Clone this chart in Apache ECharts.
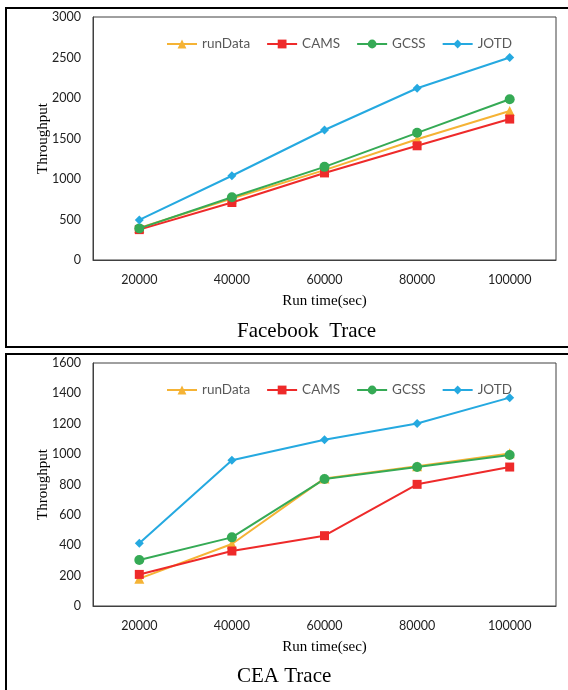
<!DOCTYPE html>
<html><head><meta charset="utf-8">
<script src="https://cdn.jsdelivr.net/npm/echarts@6/dist/echarts.min.js"></script>
<style>html,body{margin:0;padding:0;background:#fff}#c{width:568px;height:690px}</style>
</head><body><div id="c"></div>
<script>
var categories = ['20000','40000','60000','80000','100000'];
var seriesNames = ['runData','CAMS','GCSS','JOTD'];
// Facebook Trace
var fbRunData = [395, 760, 1110, 1490, 1840];
var fbCAMS    = [375, 710, 1075, 1410, 1740];
var fbGCSS    = [390, 775, 1150, 1570, 1985];
var fbJOTD    = [495, 1040, 1605, 2120, 2500];
// CEA Trace
var ceaRunData = [180, 408, 840, 920, 1005];
var ceaCAMS    = [208, 362, 463, 801, 915];
var ceaGCSS    = [303, 452, 836, 915, 994];
var ceaJOTD    = [413, 960, 1095, 1202, 1372];
var fbTicks = [0,500,1000,1500,2000,2500,3000];
var ceaTicks = [0,200,400,600,800,1000,1200,1400,1600];

var colors = {runData:'#F5B335', CAMS:'#EE2A2A', GCSS:'#35AA55', JOTD:'#25A9E0'};
var symbols = {runData:'triangle', CAMS:'rect', GCSS:'circle', JOTD:'diamond'};
var sizes = {runData:10, CAMS:9, GCSS:10, JOTD:9};
var sans = 'Lato';
var serif = 'Liberation Serif';

function mk(name, data, idx){
  return {name:name, type:'line', xAxisIndex:idx, yAxisIndex:idx, data:data,
    symbol:symbols[name], symbolSize:sizes[name], showAllSymbol:true,
    itemStyle:{color:colors[name]}, lineStyle:{color:colors[name], width:2}};
}
function xa(idx){
  return {type:'category', gridIndex:idx, data:categories, boundaryGap:true,
    axisLine:{show:true, lineStyle:{color:'#404040', width:1}}, axisTick:{show:false},
    axisLabel:{color:'#222', fontFamily:sans, fontSize:12.5, margin:13},
    name:'Run time(sec)', nameLocation:'middle', nameGap:34,
    nameTextStyle:{fontFamily:serif, fontSize:15, color:'#000'}};
}
function ya(idx, ticks){
  return {type:'value', gridIndex:idx, min:ticks[0], max:ticks[ticks.length-1], interval:ticks[1]-ticks[0],
    splitLine:{show:false}, axisLine:{show:true, lineStyle:{color:'#404040', width:1}}, axisTick:{show:false},
    axisLabel:{color:'#222', fontFamily:sans, fontSize:12.5, margin:12, formatter:function(v){return String(v);}},
    name:'Throughput', nameLocation:'middle', nameGap:42, nameRotate:90, nameMoveOverlap:false,
    nameTextStyle:{fontFamily:serif, fontSize:15, color:'#000'}};
}
function lg(top){
  return {data:seriesNames, left:161, top:top, itemWidth:30, itemHeight:11, itemGap:16,
    textStyle:{fontFamily:sans, fontSize:13.5, color:'#595959'}, selectedMode:false};
}
var chart = echarts.init(document.getElementById('c'), null, {renderer:'canvas'});
chart.setOption({
  animation:false,
  backgroundColor:'#fff',
  grid:[
    {left:93, top:17, width:463, height:243, show:true, borderColor:'#404040', borderWidth:1, backgroundColor:'transparent'},
    {left:93, top:363, width:463, height:243, show:true, borderColor:'#404040', borderWidth:1, backgroundColor:'transparent'}
  ],
  legend:[lg(32), lg(378)],
  xAxis:[xa(0), xa(1)],
  yAxis:[ya(0, fbTicks), ya(1, ceaTicks)],
  series:[
    mk('runData', fbRunData, 0), mk('CAMS', fbCAMS, 0), mk('GCSS', fbGCSS, 0), mk('JOTD', fbJOTD, 0),
    mk('runData', ceaRunData, 1), mk('CAMS', ceaCAMS, 1), mk('GCSS', ceaGCSS, 1), mk('JOTD', ceaJOTD, 1)
  ],
  graphic:[
    {type:'rect', shape:{x:6, y:8, width:640, height:339}, style:{fill:'none', stroke:'#000', lineWidth:2}, silent:true},
    {type:'rect', shape:{x:6, y:354, width:640, height:400}, style:{fill:'none', stroke:'#000', lineWidth:2}, silent:true},
    {type:'text', left:237, top:321, style:{text:'Facebook  Trace', font:'21px "Liberation Serif"', fill:'#000'}},
    {type:'text', left:237, top:666, style:{text:'CEA Trace', font:'21px "Liberation Serif"', fill:'#000'}}
  ]
});
</script></body></html>
